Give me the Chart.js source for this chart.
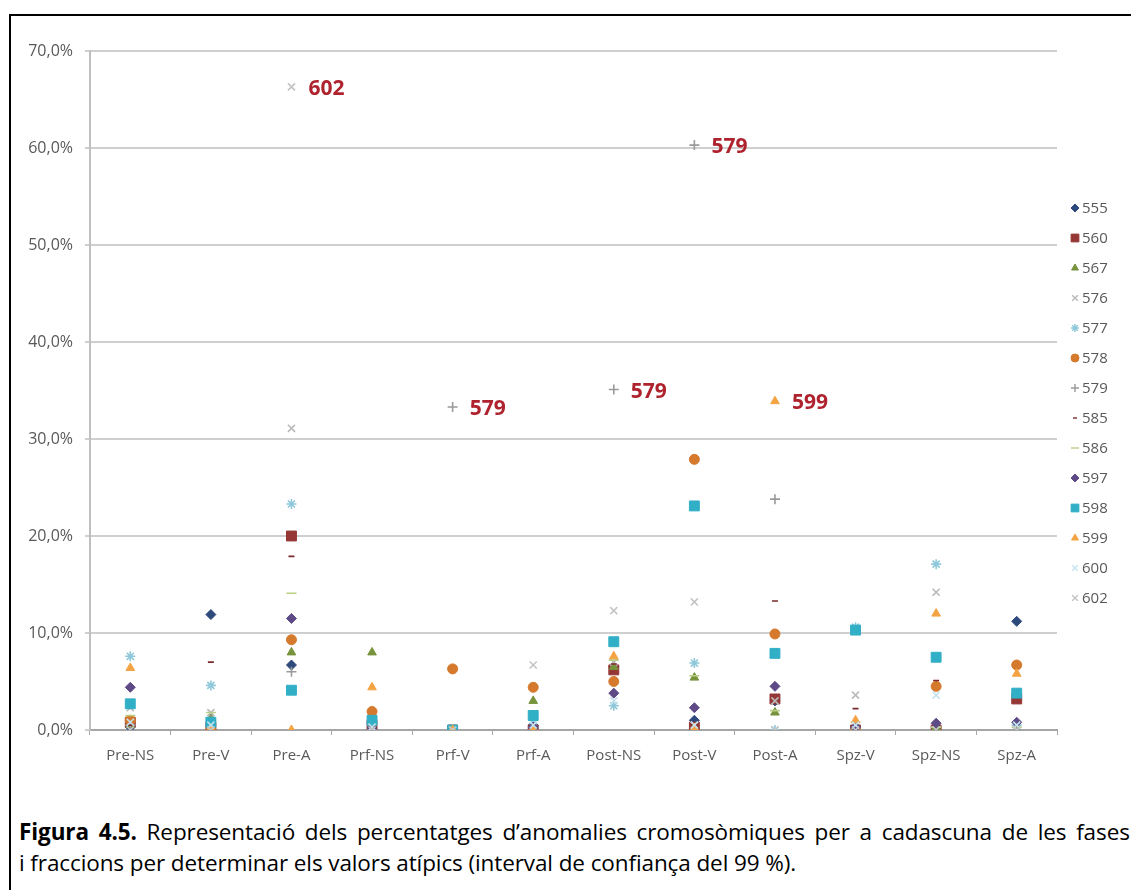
<!DOCTYPE html>
<html>
<head>
<meta charset="utf-8">
<script src="https://cdn.jsdelivr.net/npm/chart.js@4.4.1/dist/chart.umd.min.js"></script>
<style>
  html, body { margin: 0; padding: 0; background: #fff; width: 1131px; height: 890px; overflow: hidden; }
  #frame { position: absolute; left: 9px; top: 14px; width: 1200px; height: 1000px;
           border-left: 2px solid #000; border-top: 2px solid #000; }
  #chartBox { position: absolute; left: 14px; top: 14px; width: 1117px; height: 776px; }
  #caption { position: absolute; left: 19px; top: 816px; width: 1200px; font-family: "Open Sans", sans-serif;
             font-size: 22.5px; line-height: 31px; color: #000; white-space: nowrap; letter-spacing: -0.1px; }
  #caption .l1 { word-spacing: 4px; }
  #caption b { font-weight: 700; }
</style>
</head>
<body>
<div id="frame"></div>
<div id="chartBox"><canvas id="c" width="1117" height="776"></canvas></div>
<div id="caption">
  <div class="l1"><b>Figura 4.5.</b> Representació dels percentatges d’anomalies cromosòmiques per a cadascuna de les fases</div>
  <div>i fraccions per determinar els valors atípics (interval de confiança del 99 %).</div>
</div>
<script>
// ---- Data ----
const categories = ['Pre-NS','Pre-V','Pre-A','Prf-NS','Prf-V','Prf-A','Post-NS','Post-V','Post-A','Spz-V','Spz-NS','Spz-A'];
const seriesNames = ['555','560','567','576','577','578','579','585','586','597','598','599','600','602'];
const s555 = [0.3, 11.9, 6.7, 0, 0, 0.5, 6.5, 1.0, 3.0, 0, 0.3, 11.2];
const s560 = [0.8, 0.3, 20.0, 0.5, 0, 0, 6.2, 0.3, 3.2, 0, 0, 3.2];
const s567 = [0.5, 1.2, 8.0, 8.0, 0, 3.0, 6.5, 5.4, 1.8, 0, 0.3, 0];
const s576 = [2.3, 1.8, 31.1, 0, 0, 0.8, 7.0, 0.5, 3.0, 3.6, 14.2, 0.5];
const s577 = [7.6, 4.6, 23.3, 1.0, 0, 1.0, 2.5, 6.9, 0, 10.6, 17.1, 0.5];
const s578 = [1.0, 0, 9.3, 1.9, 6.3, 4.4, 5.0, 27.9, 9.9, 0, 4.5, 6.7];
const s579 = [0.5, 1.0, 6.0, 0, 33.3, 0, 35.1, 60.3, 23.8, 0, 0.3, 0];
const s585 = [0.5, 7.0, 17.9, 0.3, 0, 0, 6.8, 0.5, 13.3, 2.2, 5.1, 3.5];
const s586 = [1.5, 1.8, 14.1, 0.5, 0, 0.3, 7.2, 5.6, 2.0, 0.8, 0.3, 0.3];
const s597 = [4.4, 0.5, 11.5, 0.2, 0, 0.3, 3.8, 2.3, 4.5, 0.3, 0.7, 0.8];
const s598 = [2.7, 0.8, 4.1, 1.0, 0, 1.5, 9.1, 23.1, 7.9, 10.3, 7.5, 3.8];
const s599 = [6.4, 0, 0, 4.4, 0, 0, 7.6, 0.2, 33.9, 1.0, 12.0, 5.8];
const s600 = [0.8, 0.5, null, 0.3, 0, 0.5, 3.0, 0.5, 0, 0.5, 3.6, 0.5];
const s602 = [0, 0, 66.3, 0, 0, 6.7, 12.3, 13.2, 0, 0, 0, 0];
const seriesValues = [s555, s560, s567, s576, s577, s578, s579, s585, s586, s597, s598, s599, s600, s602];
const yTicks = [0, 10, 20, 30, 40, 50, 60, 70];
// outlier labels: [series, category]
const outliers = [['602','Pre-A'], ['579','Prf-V'], ['579','Post-NS'], ['579','Post-V'], ['599','Post-A']];

// ---- Styles ----
const styles = [
  { c: '#2E4A7D', s: 'rectRot', r: 5 },
  { c: '#953735', s: 'rect', r: 7 },
  { c: '#77933C', s: 'triangle', r: 5 },
  { c: '#B8B8B8', s: 'crossRot', r: 5, line: true },
  { c: '#8FC8DA', s: 'star', r: 5, line: true },
  { c: '#D5792C', s: 'circle', r: 5 },
  { c: '#9A9A9A', s: 'cross', r: 5, line: true },
  { c: '#7A2A2A', s: 'line', r: 3, line: true },
  { c: '#B9CF85', s: 'line', r: 5, line: true },
  { c: '#5E4A86', s: 'rectRot', r: 5 },
  { c: '#31AFC6', s: 'rect', r: 7 },
  { c: '#F4A343', s: 'triangle', r: 5 },
  { c: '#C5E3EF', s: 'crossRot', r: 5, line: true },
  { c: '#C4C4C4', s: 'crossRot', r: 5, line: true }
];

const N = seriesNames.length;
const datasets = seriesNames.map((name, i) => ({
  label: name,
  data: seriesValues[i],
  showLine: false,
  pointStyle: styles[i].s,
  pointRadius: styles[i].r,
  pointHoverRadius: styles[i].r,
  pointBackgroundColor: styles[i].c,
  pointBorderColor: styles[i].c,
  pointBorderWidth: styles[i].line ? 1.6 : 1,
  backgroundColor: styles[i].c,
  borderColor: styles[i].c,
  order: N - i
}));

const FONT = '"Open Sans", sans-serif';

const legendPlugin = {
  id: 'customLegend',
  afterDraw(chart) {
    const ctx = chart.ctx;
    const a = chart.chartArea;
    ctx.save();
    ctx.font = '15px ' + FONT;
    ctx.textBaseline = 'middle';
    ctx.textAlign = 'left';
    seriesNames.forEach((name, i) => {
      const st = styles[i];
      const x = a.right + 18, y = a.top + 157 + i * 30;
      ctx.fillStyle = st.c; ctx.strokeStyle = st.c;
      ctx.lineWidth = st.line ? 1.4 : 1;
      Chart.helpers.drawPoint(ctx, { pointStyle: st.s, radius: st.s === 'rect' ? 5.5 : (st.s === 'line' ? st.r - 1 : 4), rotation: 0, borderWidth: ctx.lineWidth }, x, y);
      ctx.fillStyle = '#595959';
      ctx.fillText(name, x + 7, y + 1);
    });
    ctx.restore();
  }
};

const outlierPlugin = {
  id: 'outlierLabels',
  afterDatasetsDraw(chart) {
    const ctx = chart.ctx;
    ctx.save();
    ctx.font = 'bold 21px ' + FONT;
    ctx.fillStyle = '#AE232D';
    ctx.textBaseline = 'middle';
    ctx.textAlign = 'left';
    outliers.forEach(([name, cat]) => {
      const di = seriesNames.indexOf(name);
      const ci = categories.indexOf(cat);
      const pt = chart.getDatasetMeta(di).data[ci];
      ctx.fillText(name, pt.x + 17, pt.y + 2);
    });
    ctx.restore();
  }
};

new Chart(document.getElementById('c'), {
  type: 'line',
  data: { labels: categories, datasets },
  options: {
    responsive: false,
    animation: false,
    layout: { padding: { top: 37, right: 74, bottom: 10, left: 0 } },
    plugins: { legend: { display: false }, tooltip: { enabled: false } },
    scales: {
      x: {
        offset: true,
        grid: { offset: true, drawOnChartArea: false, drawTicks: true, tickLength: 5, color: '#A6A6A6', lineWidth: 1 },
        border: { color: '#A6A6A6', width: 2 },
        ticks: { color: '#595959', font: { family: FONT, size: 15 }, padding: 12, maxRotation: 0, autoSkip: false },
        afterFit(s) { s.height = 50; }
      },
      y: {
        min: 0, max: 70,
        afterBuildTicks(s) { s.ticks = yTicks.map(v => ({ value: v })); },
        grid: { color: '#CFCFCF', lineWidth: 2, tickLength: 5 },
        border: { color: '#BFBFBF', width: 2 },
        ticks: {
          color: '#595959', font: { family: FONT, size: 16 }, padding: 12,
          callback: v => v.toFixed(1).replace('.', ',') + '%'
        },
        afterFit(s) { s.width = 76; }
      }
    }
  },
  plugins: [legendPlugin, outlierPlugin]
});
</script>
</body>
</html>
